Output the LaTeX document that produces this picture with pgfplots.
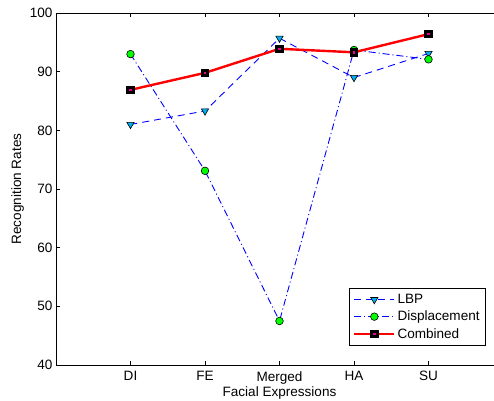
\documentclass[border=0pt]{standalone}
\usepackage{fontspec}
\setmainfont{Liberation Sans}
\usepackage{pgfplots}
\pgfplotsset{compat=1.18}
\definecolor{mblue}{RGB}{0,0,255}
\pgfdeclareplotmark{combsq}{%
  \pgfpathrectangle{\pgfqpoint{-\pgfplotmarksize}{-\pgfplotmarksize}}{\pgfqpoint{2\pgfplotmarksize}{2\pgfplotmarksize}}%
  \pgfsetfillcolor{black}\pgfusepath{fill}%
  \pgfpathrectangle{\pgfqpoint{-0.3\pgfplotmarksize}{-0.3\pgfplotmarksize}}{\pgfqpoint{0.6\pgfplotmarksize}{0.6\pgfplotmarksize}}%
  \pgfsetfillcolor{magenta}\pgfusepath{fill}%
}
\begin{document}
\begin{tikzpicture}
\begin{axis}[
  name=ax,
  scale only axis,
  width=447bp, height=352bp,
  xmin=0, xmax=6, ymin=40, ymax=100,
  axis x line*=box, axis y line*=left,
  xtick={1,2,3,4,5},
  xticklabels={DI,FE,Merged,HA,SU},
  ytick={40,50,60,70,80,90,100},
  tick align=inside,
  major tick length=4bp,
  xtick pos=both,
  ytick pos=left,
  axis line style={line width=0.8bp, -},
  tick style={line width=0.6bp, color=black},
  font=\fontsize{13.6}{16}\selectfont,
  /pgf/number format/assume math mode=true,
  xticklabel style={yshift=-3bp},
  xlabel={Facial Expressions},
  ylabel={Recognition Rates},
  xlabel style={yshift=4bp},
  ylabel style={yshift=-1bp},
  legend cell align=left,
  legend style={at={(1,0)}, anchor=south east, xshift=-17bp, yshift=19bp,
    draw=black, line width=0.8bp, font=\fontsize{13.6}{16}\selectfont,
    row sep=2bp, inner sep=4bp},
  legend image code/.code={%
    \draw[mark repeat=2,mark phase=2] plot coordinates {(0bp,0bp)(20bp,0bp)(40bp,0bp)};},
]
\addplot[mblue, line width=0.9bp, dash pattern=on 7bp off 5bp, mark=triangle*,
  mark size=4.2bp, mark options={solid, rotate=180, fill=cyan, draw=black, line width=0.6bp}]
  coordinates {(1,81.0) (2,83.3) (3,95.7) (4,89.0) (5,93.1)};
\addlegendentry{LBP}
\addplot[mblue, line width=0.9bp, dash pattern=on 7bp off 3bp on 1bp off 3bp, mark=*,
  mark size=3.8bp, mark options={solid, fill=green, draw=black, line width=0.6bp}]
  coordinates {(1,93.0) (2,73.1) (3,47.5) (4,93.7) (5,92.1)};
\addlegendentry{Displacement}
\addplot[red, line width=2.4bp, mark=combsq, mark size=4.2bp, mark options={solid}]
  coordinates {(1,86.9) (2,89.8) (3,93.9) (4,93.3) (5,96.4)};
\addlegendentry{Combined}
\end{axis}
\pgfresetboundingbox
\useasboundingbox ([xshift=-56bp,yshift=-36bp]ax.south west) rectangle ([xshift=438bp,yshift=365bp]ax.south west);
\end{tikzpicture}
\end{document}
